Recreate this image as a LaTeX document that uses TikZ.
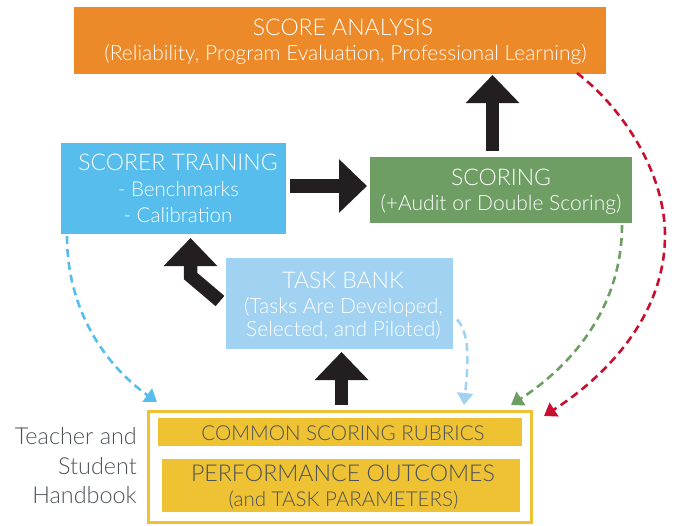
\documentclass[tikz,border=0pt]{standalone}
\usepackage{fontspec}
\setmainfont{Lato Light}
\usetikzlibrary{arrows.meta,calc}
\definecolor{orangeA}{HTML}{EC8A2A}
\definecolor{blueA}{HTML}{56BDEC}
\definecolor{greenA}{HTML}{6E9E64}
\definecolor{lblueA}{HTML}{A2D2F2}
\definecolor{yellowA}{HTML}{EEC232}
\definecolor{grayT}{HTML}{4D5259}
\definecolor{redA}{HTML}{C8102E}
\definecolor{blackA}{HTML}{231F20}
\newcommand{\fsz}[1]{\fontsize{#1}{#1}\selectfont}
\begin{document}
\begin{tikzpicture}[x=1pt,y=-1pt,
  box/.style={rectangle,inner sep=0pt,outer sep=0pt,draw=none},
  wtxt/.style={text=white,anchor=base,inner sep=0pt},
  gtxt/.style={text=grayT,anchor=base,inner sep=0pt},
  blk/.style={draw=blackA,line width=13.5pt,line cap=butt,line join=miter,
    -{Triangle[length=28pt,width=52pt]}},
  dsh/.style={line width=2.6pt,dash pattern=on 8pt off 5pt,
    -{Triangle[length=12pt,width=16pt]}}]
\useasboundingbox (0,0) rectangle (674,525);

% boxes
\node[box,fill=orangeA,minimum width=532pt,minimum height=67pt] (ana) at (340,40.5) {};
\node[box,fill=blueA,minimum width=225pt,minimum height=91pt] (train) at (173.5,188.5) {};
\node[box,fill=greenA,minimum width=262pt,minimum height=66pt] (scor) at (501,190) {};
\node[box,fill=lblueA,minimum width=227pt,minimum height=91pt] (task) at (339.5,303.5) {};
\node[box,draw=yellowA,line width=3pt,minimum width=383pt,minimum height=111pt] (frame) at (340,467) {};
\node[box,fill=yellowA,minimum width=364pt,minimum height=28pt] (rub) at (340,432) {};
\node[box,fill=yellowA,minimum width=358pt,minimum height=53pt] (perf) at (341,485.5) {};

% texts
\node[wtxt,font=\fsz{23}] (anaT) at (343,35) {SCORE ANALYSIS};
\node[wtxt,font=\fsz{21}] (anaS) at (345.5,60) {(Reliability, Program Evaluation, Professional Learning)};
\node[wtxt,font=\fsz{23}] (trainT) at (178,170.7) {SCORER TRAINING};
\node[wtxt,font=\fsz{20.5}] (trainA) at (178.5,196.7) {- Benchmarks};
\node[wtxt,font=\fsz{20.5}] (trainB) at (178,222.7) {- Calibration};
\node[wtxt,font=\fsz{23}] (scorT) at (501,185) {SCORING};
\node[wtxt,font=\fsz{21}] (scorS) at (501,210) {(+Audit or Double Scoring)};
\node[wtxt,font=\fsz{23}] (taskT) at (343,288.3) {TASK BANK};
\node[wtxt,font=\fsz{21}] (taskA) at (343.5,313.3) {(Tasks Are Developed,};
\node[wtxt,font=\fsz{21}] (taskB) at (343.5,336) {Selected, and Piloted)};
\node[gtxt,font=\fsz{20.6}] (rubT) at (343,440) {COMMON SCORING RUBRICS};
\node[gtxt,font=\fsz{23.2}] (perfT) at (343,481.7) {PERFORMANCE OUTCOMES};
\node[gtxt,font=\fsz{20.5}] (perfS) at (343.5,506.7) {(and TASK PARAMETERS)};
\node[gtxt,font=\fsz{23.4},anchor=base east] (hb1) at (137,444) {Teacher and};
\node[gtxt,font=\fsz{23.4},anchor=base east] (hb2) at (137,474) {Student};
\node[gtxt,font=\fsz{23.4},anchor=base east] (hb3) at (137,503) {Handbook};

% block arrows
\coordinate (p1) at ($(scor.north)+(-8.5,-6)$);
\draw[blk] (p1) -- ($(p1 |- ana.south)+(0,1)$);
\coordinate (p2) at ($(train.east)+(4,-2.5)$);
\draw[blk] (p2) -- ($(p2 -| scor.west)+(-3,0)$);
\coordinate (p3) at ($(frame.north)+(1.5,-6.5)$);
\draw[blk] (p3) -- ($(p3 |- task.south)+(0,3)$);
\coordinate (p4) at ($(task.west)+(-6,-2.5)$);
\draw[blk] (p4) -- ++(-29.5,-25) -- ($(train.south)+(17,4)$);

% dashed arrows
\draw[dsh,draw=blueA] ($(train.south west)+(6,2)$)
  .. controls +(0,74) and +(-52,-37) .. ($(frame.north west)+(8.5,-9.5)$);
\draw[dsh,draw=lblueA] ($(task.east)+(4,16)$)
  .. controls +(15,15) and +(3,-30) .. ($(frame.north)+(124,-6.5)$);
\draw[dsh,draw=greenA] ($(scor.south east)+(-10,2)$)
  .. controls +(0,75) and +(69,-45) .. ($(frame.north east)+(-20.5,-6.5)$);
\draw[dsh,draw=redA] ($(ana.south)+(237,-1)$)
  .. controls +(48,37) and +(0,-60) .. (665,235)
  .. controls +(0,85) and +(56,-36) .. ($(frame.north east)+(12.5,4.5)$);
\end{tikzpicture}
\end{document}
